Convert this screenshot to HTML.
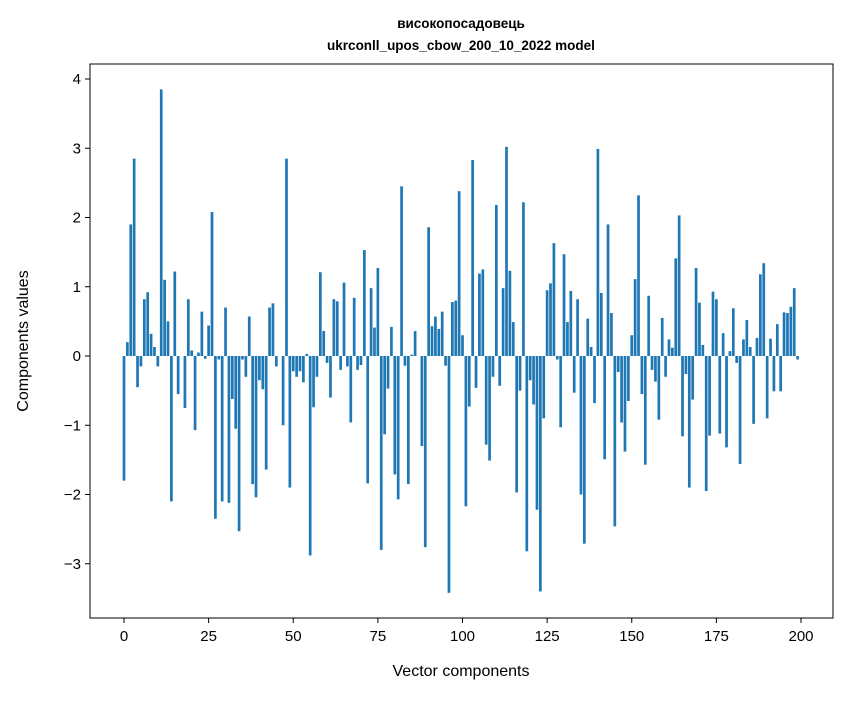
<!DOCTYPE html>
<html><head><meta charset="utf-8"><style>
body{margin:0;background:#fff;}
svg text{font-family:"Liberation Sans","DejaVu Sans",sans-serif;}
</style></head><body>
<svg id="chart" width="847" height="696" xmlns="http://www.w3.org/2000/svg">
<rect width="847" height="696" fill="#fff"/>
<text x="461" y="28" text-anchor="middle" font-size="13.5" font-weight="bold">високопосадовець</text>
<text x="461" y="50" text-anchor="middle" font-size="13.5" font-weight="bold">ukrconll_upos_cbow_200_10_2022 model</text>
<g id="bars"></g>
<rect x="90" y="64" width="743" height="554" fill="none" stroke="#000" stroke-width="1"/>
<g id="xticks"></g>
<g id="yticks"></g>
<text x="461" y="676" text-anchor="middle" font-size="16">Vector components</text>
<text transform="translate(28,341) rotate(-90)" text-anchor="middle" font-size="16">Components values</text>
</svg>
<script>
const values = [-1.8,0.2,1.9,2.85,-0.45,-0.15,0.82,0.92,0.32,0.13,-0.15,3.85,1.1,0.5,-2.1,1.22,-0.55,0.0,-0.75,0.82,0.08,-1.07,0.05,0.64,-0.04,0.44,2.08,-2.35,-0.05,-2.1,0.7,-2.12,-0.62,-1.05,-2.53,-0.05,-0.3,0.57,-1.85,-2.04,-0.35,-0.48,-1.64,0.7,0.76,-0.15,0.0,-1.0,2.85,-1.9,-0.22,-0.3,-0.22,-0.38,0.03,-2.88,-0.74,-0.3,1.21,0.36,-0.1,-0.6,0.82,0.79,-0.2,1.06,-0.15,-0.96,0.84,-0.2,-0.13,1.53,-1.84,0.98,0.41,1.27,-2.8,-1.13,-0.47,0.42,-1.71,-2.07,2.45,-0.14,-1.85,0.02,0.36,0.0,-1.3,-2.76,1.86,0.43,0.57,0.39,0.64,-0.14,-3.42,0.78,0.8,2.38,0.3,-2.17,-0.73,2.83,-0.46,1.19,1.25,-1.28,-1.51,-0.3,2.18,-0.43,0.98,3.02,1.23,0.49,-1.97,-0.5,2.22,-2.82,-0.35,-0.7,-2.22,-3.4,-0.9,0.95,1.05,1.63,-0.05,-1.03,1.47,0.49,0.94,-0.53,0.82,-2.0,-2.71,0.54,0.13,-0.68,2.99,0.91,-1.49,1.9,0.62,-2.46,-0.23,-0.96,-1.38,-0.65,0.3,1.11,2.32,-0.55,-1.57,0.87,-0.2,-0.37,-0.92,0.55,-0.3,0.24,0.12,1.41,2.03,-1.16,-0.26,-1.9,-0.63,1.27,0.77,0.16,-1.95,-1.15,0.93,0.82,-1.12,0.33,-1.32,0.07,0.69,-0.1,-1.56,0.24,0.52,0.13,-0.98,0.26,1.18,1.34,-0.9,0.25,-0.51,0.46,-0.51,0.63,0.62,0.71,0.98,-0.05];
const xTicks = [0,25,50,75,100,125,150,175,200];
const yTicks = [-3,-2,-1,0,1,2,3,4];
const yTickLabels = ["\u22123","\u22122","\u22121","0","1","2","3","4"];

const NS = "http://www.w3.org/2000/svg";
const xScale = v => 124 + v * 3.385;
const yScale = v => 356 - v * 69.25;
const bars = document.getElementById('bars');
values.forEach((v, i) => {
  const r = document.createElementNS(NS, 'rect');
  const x0 = xScale(i - 0.4), x1 = xScale(i + 0.4);
  const y0 = yScale(Math.max(v, 0)), y1 = yScale(Math.min(v, 0));
  r.setAttribute('x', x0); r.setAttribute('width', x1 - x0);
  r.setAttribute('y', y0); r.setAttribute('height', Math.max(y1 - y0, 0.01));
  r.setAttribute('fill', '#1f77b4');
  
  
  bars.appendChild(r);
});
const xg = document.getElementById('xticks');
xTicks.forEach(t => {
  const x = xScale(t);
  const l = document.createElementNS(NS, 'line');
  l.setAttribute('x1', x); l.setAttribute('x2', x); l.setAttribute('y1', 618); l.setAttribute('y2', 623);
  l.setAttribute('stroke', '#000');
  
  
  xg.appendChild(l);
  const tx = document.createElementNS(NS, 'text');
  tx.setAttribute('x', x); tx.setAttribute('y', 641); tx.setAttribute('text-anchor', 'middle'); tx.setAttribute('font-size', '15');
  tx.textContent = t;
  
  
  xg.appendChild(tx);
});
const yg = document.getElementById('yticks');
yTicks.forEach((t, i) => {
  const y = yScale(t);
  const l = document.createElementNS(NS, 'line');
  l.setAttribute('x1', 85); l.setAttribute('x2', 90); l.setAttribute('y1', y); l.setAttribute('y2', y);
  l.setAttribute('stroke', '#000');
  
  
  yg.appendChild(l);
  const tx = document.createElementNS(NS, 'text');
  tx.setAttribute('x', 81); tx.setAttribute('y', y + 5); tx.setAttribute('text-anchor', 'end'); tx.setAttribute('font-size', '15');
  tx.textContent = yTickLabels[i];
  
  
  yg.appendChild(tx);
});
</script>
</body></html>
